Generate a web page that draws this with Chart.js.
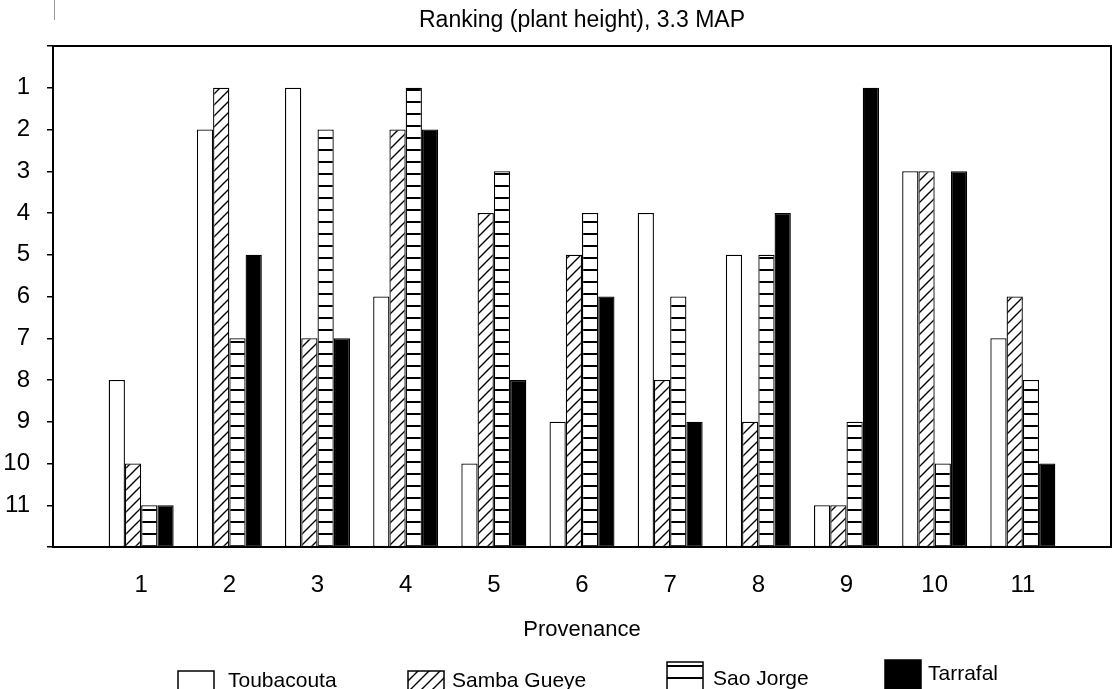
<!DOCTYPE html>
<html>
<head>
<meta charset="utf-8">
<title>Ranking (plant height), 3.3 MAP</title>
<script src="https://cdn.jsdelivr.net/npm/chart.js@4.4.1/dist/chart.umd.min.js"></script>
<style>
  html, body { margin: 0; padding: 0; background: #fff; overflow: hidden; }
  canvas { display: block; }
</style>
</head>
<body>
<canvas id="rankChart" width="1114" height="689"></canvas>
<script>
// Rangs (1 = plante la plus haute), par provenance
const provenances = ['1', '2', '3', '4', '5', '6', '7', '8', '9', '10', '11'];
const toubacouta = [8, 2, 1, 6, 10, 9, 4, 5, 11, 3, 7];
const sambaGueye = [10, 1, 7, 2, 4, 5, 8, 9, 11, 3, 6];
const saoJorge   = [11, 7, 2, 1, 3, 4, 6, 5, 9, 10, 8];
const tarrafal   = [11, 5, 7, 2, 8, 6, 9, 4, 1, 3, 10];
const seriesNames = ['Toubacouta', 'Samba Gueye', 'Sao Jorge', 'Tarrafal'];
const rankTicks = [1, 2, 3, 4, 5, 6, 7, 8, 9, 10, 11];
const rankBase = 12; // les barres partent du bas de l'axe (rang 12)

const canvas = document.getElementById('rankChart');
const ctx = canvas.getContext('2d');

// Motifs de remplissage (hachures obliques / lignes horizontales)
function hatchPattern() {
    const c = document.createElement('canvas');
    c.width = 11; c.height = 11;
    const g = c.getContext('2d');
    g.fillStyle = '#fff';
    g.fillRect(0, 0, 11, 11);
    g.strokeStyle = '#000';
    g.lineWidth = 1.4;
    g.beginPath();
    g.moveTo(0, 11); g.lineTo(11, 0);
    g.moveTo(-2, 2); g.lineTo(2, -2);
    g.moveTo(9, 13); g.lineTo(13, 9);
    g.stroke();
    return ctx.createPattern(c, 'repeat');
}

function stripePattern() {
    const c = document.createElement('canvas');
    c.width = 12; c.height = 12;
    const g = c.getContext('2d');
    g.fillStyle = '#fff';
    g.fillRect(0, 0, 12, 12);
    g.fillStyle = '#000';
    g.fillRect(0, 5, 12, 2);
    return ctx.createPattern(c, 'repeat');
}

const fills = ['#ffffff', hatchPattern(), stripePattern(), '#000000'];
const allSeries = [toubacouta, sambaGueye, saoJorge, tarrafal];

// une catégorie vide de chaque côté pour laisser un intervalle entier aux bords
const labels = [''].concat(provenances, ['']);

const datasets = allSeries.map((ranks, i) => ({
    label: seriesNames[i],
    data: [null].concat(ranks.map(r => [rankBase, r]), [null]),
    backgroundColor: fills[i],
    borderColor: '#000',
    borderWidth: 1.3,
    borderSkipped: false
}));

// Cadre (haut + droite), légende et petit trait du scan
const legendX = [178, 408, 667, 885];
const legendTextX = [228, 452, 713, 928];
const legendBoxTop = [671, 671, 662, 660];
const legendBaseline = [687, 687, 685, 680];

const frameAndLegend = {
    id: 'frameAndLegend',
    afterDraw(chart) {
        const c = chart.ctx;
        const a = chart.chartArea;
        c.save();
        c.strokeStyle = '#000';
        c.lineWidth = 2;
        c.beginPath();
        c.moveTo(a.left, a.top);
        c.lineTo(a.right, a.top);
        c.lineTo(a.right, a.bottom);
        c.stroke();

        c.strokeStyle = '#999';
        c.lineWidth = 1;
        c.beginPath();
        c.moveTo(54.5, 0);
        c.lineTo(54.5, 20);
        c.stroke();

        c.font = '21px "Liberation Sans", Arial, sans-serif';
        c.textBaseline = 'alphabetic';
        c.textAlign = 'left';
        chart.data.datasets.forEach((ds, i) => {
            c.fillStyle = ds.backgroundColor;
            c.fillRect(legendX[i], legendBoxTop[i], 36, 30);
            c.strokeStyle = '#000';
            c.lineWidth = 1.5;
            c.strokeRect(legendX[i], legendBoxTop[i], 36, 30);
            c.fillStyle = '#000';
            c.fillText(ds.label, legendTextX[i], legendBaseline[i]);
        });
        c.restore();
    }
};

const tickFont = { family: '"Liberation Sans", Arial, sans-serif', size: 24, weight: 'normal' };

new Chart(ctx, {
    type: 'bar',
    data: { labels: labels, datasets: datasets },
    options: {
        responsive: false,
        animation: false,
        layout: { padding: { left: 0, right: 3, top: 0, bottom: 45.8 } },
        datasets: {
            bar: { categoryPercentage: 0.737, barPercentage: 1 }
        },
        plugins: {
            legend: { display: false },
            tooltip: { enabled: false },
            title: {
                display: true,
                text: 'Ranking (plant height), 3.3 MAP',
                fullSize: false,
                color: '#000',
                font: { family: '"Liberation Sans", Arial, sans-serif', size: 23, weight: 'normal' },
                padding: { top: 7, bottom: 11.4 }
            }
        },
        scales: {
            x: {
                offset: false,
                grid: { display: false, drawTicks: false, offset: false },
                border: { display: true, color: '#000', width: 2 },
                ticks: { color: '#000', font: tickFont, padding: 24, maxRotation: 0, autoSkip: false },
                title: {
                    display: true,
                    text: 'Provenance',
                    color: '#000',
                    font: { family: '"Liberation Sans", Arial, sans-serif', size: 22, weight: 'normal' },
                    padding: { top: 17, bottom: 0 }
                },
                afterFit(scale) {
                    scale.height = 96.2;
                    scale.paddingLeft = 0;
                    scale.paddingRight = 0;
                }
            },
            y: {
                min: 0,
                max: rankBase,
                reverse: true,
                grid: { drawOnChartArea: false, drawTicks: true, tickLength: 6, color: '#000', lineWidth: 1.5 },
                border: { display: true, color: '#000', width: 2 },
                ticks: {
                    stepSize: 1,
                    autoSkip: false,
                    padding: 17,
                    color: '#000',
                    font: tickFont,
                    callback: (v) => rankTicks.includes(v) ? String(v) : ''
                },
                afterFit(scale) { scale.width = 53; }
            }
        }
    },
    plugins: [frameAndLegend]
});
</script>
</body>
</html>
